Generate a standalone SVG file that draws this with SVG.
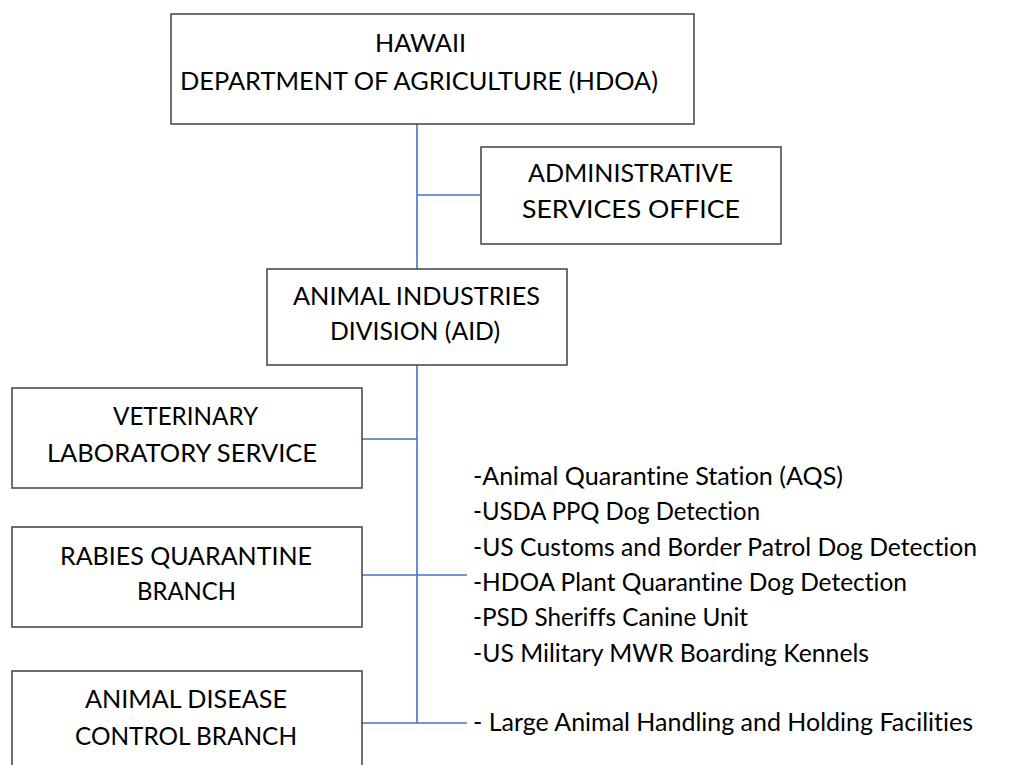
<svg xmlns="http://www.w3.org/2000/svg" width="1025" height="765" viewBox="0 0 1025 765">
  <style>
    .box { fill: #ffffff; stroke: #404040; stroke-width: 1.5; }
    .link { fill: none; stroke: #4472C4; stroke-width: 1.6; }
    text { font-family: Lato, "Open Sans", "Liberation Sans", sans-serif; font-size: 25.5px; fill: #000000; font-variant-ligatures: none; font-feature-settings: "liga" 0, "clig" 0; }
  </style>
  <rect width="1025" height="765" fill="#ffffff"/>

  <!-- connectors -->
  <g id="connectors">
    <line class="link" x1="417" y1="124" x2="417" y2="269"/>
    <line class="link" x1="417" y1="195" x2="481" y2="195"/>
    <line class="link" x1="417" y1="365" x2="417" y2="723"/>
    <line class="link" x1="362" y1="439" x2="417" y2="439"/>
    <line class="link" x1="362" y1="575" x2="467" y2="575"/>
    <line class="link" x1="362" y1="723" x2="467" y2="723"/>
  </g>

  <g id="hdoa">
    <rect class="box" x="171" y="14" width="523" height="110"/>
    <text x="375" y="52" textLength="91" lengthAdjust="spacingAndGlyphs">HAWAII</text>
    <text x="180" y="90" textLength="478" lengthAdjust="spacingAndGlyphs">DEPARTMENT OF AGRICULTURE (HDOA)</text>
  </g>

  <g id="admin">
    <rect class="box" x="481" y="147" width="300" height="97"/>
    <text x="528" y="182" textLength="205" lengthAdjust="spacingAndGlyphs">ADMINISTRATIVE</text>
    <text x="522" y="218" textLength="218" lengthAdjust="spacingAndGlyphs">SERVICES OFFICE</text>
  </g>

  <g id="aid">
    <rect class="box" x="267" y="269" width="300" height="96"/>
    <text x="293" y="305" textLength="247" lengthAdjust="spacingAndGlyphs">ANIMAL INDUSTRIES</text>
    <text x="330" y="340" textLength="170" lengthAdjust="spacingAndGlyphs">DIVISION (AID)</text>
  </g>

  <g id="vet-lab">
    <rect class="box" x="12" y="388" width="350" height="100"/>
    <text x="113" y="425" textLength="145" lengthAdjust="spacingAndGlyphs">VETERINARY</text>
    <text x="47" y="462" textLength="270" lengthAdjust="spacingAndGlyphs">LABORATORY SERVICE</text>
  </g>

  <g id="rabies">
    <rect class="box" x="12" y="527" width="350" height="100"/>
    <text x="60" y="565" textLength="252" lengthAdjust="spacingAndGlyphs">RABIES QUARANTINE</text>
    <text x="137" y="600" textLength="99" lengthAdjust="spacingAndGlyphs">BRANCH</text>
  </g>

  <g id="disease">
    <rect class="box" x="12" y="671" width="350" height="110"/>
    <text x="85" y="708" textLength="202" lengthAdjust="spacingAndGlyphs">ANIMAL DISEASE</text>
    <text x="75" y="745" textLength="222" lengthAdjust="spacingAndGlyphs">CONTROL BRANCH</text>
  </g>

  <g id="rabies-units">
    <text x="473" y="485" textLength="370" lengthAdjust="spacingAndGlyphs">-Animal Quarantine Station (AQS)</text>
    <text x="473" y="520" textLength="287" lengthAdjust="spacingAndGlyphs">-USDA PPQ Dog Detection</text>
    <text x="473" y="556" textLength="504" lengthAdjust="spacingAndGlyphs">-US Customs and Border Patrol Dog Detection</text>
    <text x="473" y="591" textLength="434" lengthAdjust="spacingAndGlyphs">-HDOA Plant Quarantine Dog Detection</text>
    <text x="473" y="626" textLength="275" lengthAdjust="spacingAndGlyphs">-PSD Sheriffs Canine Unit</text>
    <text x="473" y="662" textLength="396" lengthAdjust="spacingAndGlyphs">-US Military MWR Boarding Kennels</text>
  </g>

  <g id="disease-units">
    <text x="473" y="731" textLength="500" lengthAdjust="spacingAndGlyphs">- Large Animal Handling and Holding Facilities</text>
  </g>
</svg>
